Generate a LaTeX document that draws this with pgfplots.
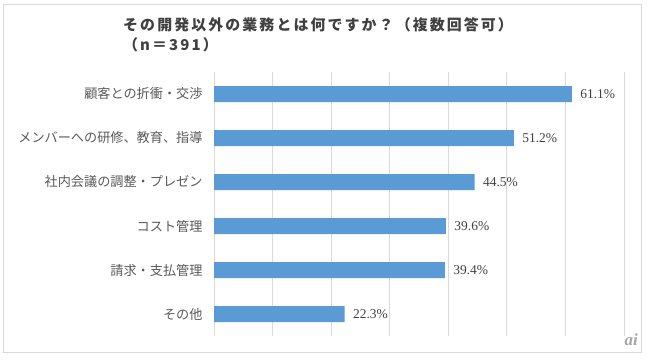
\documentclass[border=0pt]{standalone}
\usepackage{pgfplots}
\pgfplotsset{compat=1.18}
\usepackage{fontspec}
\setmainfont{Liberation Serif}
\newfontfamily\cjk{Noto Sans CJK JP}
\newfontfamily\cjkt[LetterSpace=14]{Noto Sans CJK JP}
\definecolor{barblue}{HTML}{5B9BD5}
\definecolor{gridgray}{HTML}{D9D9D9}
\definecolor{labgray}{HTML}{595959}
\definecolor{txtdark}{HTML}{404040}
\begin{document}
\begin{tikzpicture}[x=1bp,y=1bp]
\path (0,0) rectangle (648,359);
\draw[color=gridgray, line width=0.8bp] (3,7) rectangle (641,355);
\node[anchor=west, font=\cjkt\bfseries\fontsize{15}{17}\selectfont, text=txtdark, inner sep=0pt] at (123,334) {その開発以外の業務とは何ですか？（複数回答可）};
\node[anchor=west, font=\cjkt\bfseries\fontsize{15}{17}\selectfont, text=txtdark, inner sep=0pt] at (123,314) {（n＝391）};
\begin{axis}[
  at={(214bp,23bp)}, anchor=south west,
  scale only axis, width=410bp, height=264bp,
  xbar, bar width=16bp,
  xmin=0, xmax=70, ymin=-0.5, ymax=5.5,
  y dir=reverse,
  axis line style={draw=none},
  xtick={0,10,...,70}, xticklabels={},
  xmajorgrids, grid style={color=gridgray, line width=0.8bp},
  major tick length=0pt,
  ytick={0,1,2,3,4,5},
  yticklabels={顧客との折衝・交渉, メンバーへの研修、教育、指導, 社内会議の調整・プレゼン, コスト管理, 請求・支払管理, その他},
  yticklabel style={font=\cjk\fontsize{13.2}{15}\selectfont, text=labgray, xshift=-8bp},
  nodes near coords={\pgfmathprintnumber[fixed,precision=1,fixed zerofill]{\pgfplotspointmeta}\%},
  nodes near coords style={font=\fontsize{13.5}{15}\selectfont, text=txtdark, xshift=5bp},
  /pgf/number format/assume math mode=true,
]
\addplot[fill=barblue, draw=none] coordinates {(61.1,0) (51.2,1) (44.5,2) (39.6,3) (39.4,4) (22.3,5)};
\end{axis}
\node[anchor=south east, font=\bfseries\itshape\fontsize{17}{18}\selectfont, text=gray!70, inner sep=0pt] at (638,13) {ai};
\end{tikzpicture}
\end{document}
